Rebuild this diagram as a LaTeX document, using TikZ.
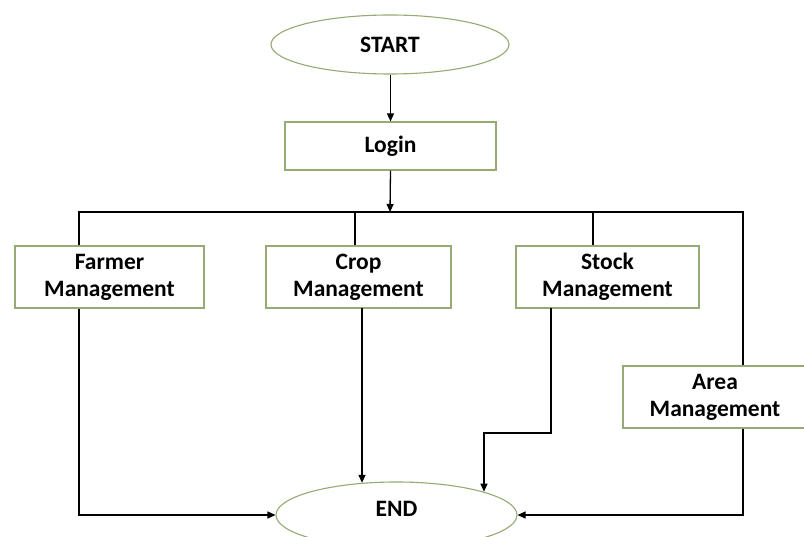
\documentclass[tikz,border=0pt]{standalone}
\usepackage{fontspec}
\setmainfont{Carlito}
\usetikzlibrary{shapes.geometric,arrows.meta}
\definecolor{outl}{RGB}{150,170,115}
\tikzset{
  box/.style={draw=outl, line width=1.1pt, fill=white, align=center, inner sep=0pt,
    font=\fontsize{23.5}{27}\selectfont\bfseries},
  oval/.style={ellipse, draw=outl, line width=1.1pt, fill=white, inner sep=0pt,
    font=\fontsize{23.5}{27}\selectfont\bfseries},
  conn/.style={draw=black, line width=1.3pt},
  arr/.style={conn, -{Stealth[length=8pt,width=7pt,inset=0pt]}}
}
\begin{document}
\begin{tikzpicture}[x=1pt,y=-1pt]
\fill[white] (0,0) rectangle (804,537);
\useasboundingbox (0,0) rectangle (804,537);

\node[oval, minimum width=238, minimum height=59] (start) at (390,44.5) {START};
\node[box, minimum width=211, minimum height=48] (login) at (390.5,146) {Login};
\node[box, minimum width=189, minimum height=62] (farmer) at (109.5,277) {Farmer\\Management};
\node[box, minimum width=185, minimum height=62] (crop) at (358.5,277) {Crop\\Management};
\node[box, minimum width=183, minimum height=62] (stock) at (607.5,277) {Stock\\Management};
\node[box, minimum width=184, minimum height=62] (area) at (715,397) {Area\\Management};
\node[oval, minimum width=241, minimum height=66, text height=15pt, text depth=12pt] (end) at (396.5,515) {END};

\coordinate (bus) at (390,212);
\coordinate (bl) at (79,212);
\coordinate (bc) at (355,212);
\coordinate (bs) at (593,212);
\coordinate (br) at (743,212);
\coordinate (cd) at (362,308);
\coordinate (sd) at (551,308);
\coordinate (sk) at (484,433);

\draw[arr] (start.south -| login) -- (login.north);
\draw[arr] (login.south) -- (bus);
\draw[conn] (farmer.north -| bl) -- (bl) -- (br) -- (area.north -| br);
\draw[conn] (bc) -- (crop.north -| bc);
\draw[conn] (bs) -- (stock.north -| bs);
\draw[arr] (farmer.south -| bl) |- (end.west);
\draw[arr] (cd) -- (cd |- end.137);
\draw[arr] (sd) |- (sk) -- (sk |- end.15);
\draw[arr] (area.south -| br) |- (end.east);
\end{tikzpicture}
\end{document}
